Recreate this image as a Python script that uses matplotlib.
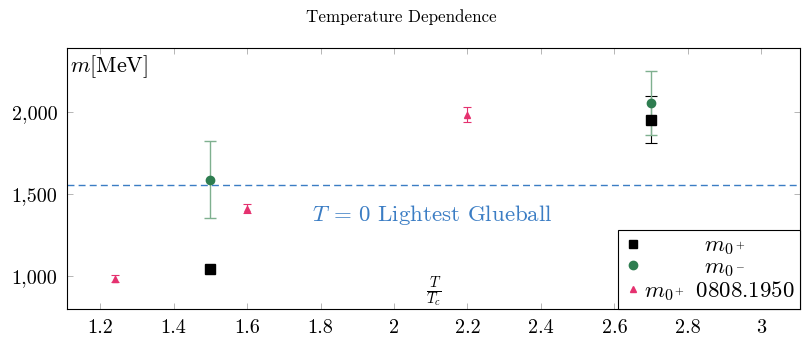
import matplotlib
matplotlib.use("Agg")
import matplotlib.pyplot as plt
from matplotlib.lines import Line2D

plt.rcParams['font.family'] = ['cmr10', 'DejaVu Serif']
plt.rcParams['mathtext.fontset'] = 'cm'
plt.rcParams['axes.unicode_minus'] = False

# data
t_plus = [1.5, 2.7]
m_plus = [1043, 1955]
err_plus = [0, 145]

t_minus = [1.5, 2.7]
m_minus = [1589, 2057]
err_minus = [235, 197]

t_ref = [1.24, 1.6, 2.2]
m_ref = [982, 1410, 1985]
err_ref = [22, 28, 45]

glueball = 1555

xticks = [1.2, 1.4, 1.6, 1.8, 2.0, 2.2, 2.4, 2.6, 2.8, 3.0]
xticklabels = ['1.2', '1.4', '1.6', '1.8', '2', '2.2', '2.4', '2.6', '2.8', '3']
yticks = [1000, 1500, 2000]
yticklabels = ['1,000', '1,500', '2,000']

fig = plt.figure(figsize=(8.02, 3.4), dpi=100)
ax = fig.add_axes([0.0835, 0.0912, 0.9145, 0.768])

green = '#2e7d50'
pink = '#e5316f'
blue = '#3b7dc4'

ax.axhline(glueball, color=blue, ls=(0, (5, 3)), lw=1.0, zorder=1)

# black squares; error bar only where it was drawn
ax.plot(t_plus, m_plus, 's', color='black', ms=7, zorder=5)
ax.errorbar(t_plus[1:], m_plus[1:], yerr=err_plus[1:], fmt='none',
            ecolor='black', elinewidth=0.8, capsize=4, capthick=0.8, zorder=2)
ax.errorbar(t_minus, m_minus, yerr=err_minus, fmt='o', color=green, ms=6,
            ecolor='#7fb08f', elinewidth=1.0, capsize=4, capthick=1.0, zorder=4)
ax.errorbar(t_ref, m_ref, yerr=err_ref, fmt='^', color=pink, ms=5,
            ecolor=pink, elinewidth=0.8, capsize=3, capthick=0.8, zorder=3)

ax.set_xlim(1.11, 3.106)
ax.set_ylim(798, 2394)
ax.set_xticks(xticks)
ax.set_xticklabels(xticklabels)
ax.set_yticks(yticks)
ax.set_yticklabels(yticklabels)
ax.tick_params(direction='in', top=True, right=True, labelsize=14.5,
               length=4, width=0.5, color='#999999', pad=7)
for s in ax.spines.values():
    s.set_linewidth(0.8)

ax.text(0.004, 0.93, r'$m$[MeV]', transform=ax.transAxes, fontsize=16,
        ha='left', va='center')
ax.text(2.11, 800, r'$\frac{T}{T_c}$', fontsize=15, ha='center', va='bottom')
ax.text(2.105, 1373, r'$T$ = 0 Lightest Glueball', color=blue, fontsize=16.5,
        ha='center', va='center')

fig.text(0.5, 0.95, 'Temperature Dependence', fontsize=12.2,
         ha='center', va='center')

handles = [
    Line2D([], [], ls='none', marker='s', color='black', ms=6),
    Line2D([], [], ls='none', marker='o', color=green, ms=6),
    Line2D([], [], ls='none', marker='^', color=pink, ms=5),
]
labels = [r'$\quad\quad\quad m_{0^+}$', r'$\quad\quad\quad m_{0^-}$',
          r'$m_{0^+}$ 0808.1950']
leg = ax.legend(handles, labels, loc='lower right', fontsize=16.5, frameon=True,
                fancybox=False, edgecolor='black', framealpha=1, borderaxespad=0,
                handletextpad=0.1, handlelength=0.8, labelspacing=0.0,
                borderpad=0.25)
leg.get_frame().set_linewidth(0.8)

fig.savefig('out.png', dpi=100)
